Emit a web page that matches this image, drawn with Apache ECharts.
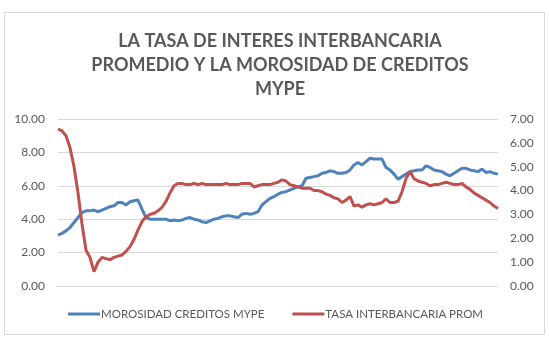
<!DOCTYPE html>
<html>
<head>
<meta charset="utf-8">
<script src="https://cdn.jsdelivr.net/npm/echarts@6/dist/echarts.min.js"></script>
<style>
  html, body { margin: 0; padding: 0; background: #fff; }
  #main { width: 549px; height: 339px; }
</style>
</head>
<body>
<div id="main"></div>
<script>
  // series values (monthly points)
  var morosidad = [
    3.05, 3.15, 3.3, 3.5, 3.8, 4.1, 4.4, 4.5, 4.5, 4.55,
    4.45, 4.55, 4.65, 4.75, 4.8, 5.0, 5.0, 4.85, 5.05, 5.1,
    5.15, 4.6, 4.1, 4.0, 4.0, 4.0, 4.0, 4.0, 3.9, 3.95,
    3.9, 3.95, 4.05, 4.1, 4.0, 3.95, 3.85, 3.8, 3.9, 4.0,
    4.05, 4.15, 4.2, 4.2, 4.15, 4.1, 4.3, 4.35, 4.3, 4.35,
    4.45, 4.85, 5.05, 5.25, 5.35, 5.5, 5.6, 5.65, 5.75, 5.85,
    5.95, 6.0, 6.45, 6.5, 6.55, 6.6, 6.75, 6.8, 6.9, 6.85,
    6.75, 6.75, 6.8, 6.95, 7.25, 7.4, 7.25, 7.45, 7.65, 7.6,
    7.6, 7.6, 7.1, 6.95, 6.7, 6.4, 6.55, 6.7, 6.85, 6.9,
    6.95, 6.95, 7.2, 7.1, 6.95, 6.9, 6.85, 6.7, 6.6, 6.75,
    6.9, 7.05, 7.05, 6.95, 6.9, 6.85, 7.0, 6.8, 6.85, 6.75,
    6.7
  ];
  var tasa = [
    6.58, 6.5, 6.3, 5.8, 5.0, 3.9, 2.6, 1.5, 1.2, 0.6,
    1.0, 1.2, 1.15, 1.1, 1.2, 1.25, 1.3, 1.45, 1.65, 1.95,
    2.35, 2.7, 2.9, 3.0, 3.05, 3.15, 3.3, 3.55, 3.9, 4.2,
    4.3, 4.3, 4.25, 4.25, 4.3, 4.25, 4.3, 4.25, 4.25, 4.25,
    4.25, 4.25, 4.3, 4.25, 4.25, 4.25, 4.3, 4.3, 4.3, 4.15,
    4.2, 4.25, 4.25, 4.25, 4.3, 4.35, 4.45, 4.4, 4.25, 4.2,
    4.15, 4.1, 4.1, 4.1, 4.0, 4.0, 3.95, 3.85, 3.8, 3.7,
    3.65, 3.5, 3.6, 3.75, 3.35, 3.4, 3.3, 3.4, 3.45, 3.4,
    3.45, 3.5, 3.65, 3.5, 3.5, 3.55, 3.95, 4.5, 4.8, 4.5,
    4.4, 4.35, 4.3, 4.2, 4.25, 4.25, 4.3, 4.35, 4.3, 4.25,
    4.25, 4.3, 4.15, 4.05, 3.9, 3.8, 3.7, 3.6, 3.5, 3.35,
    3.25
  ];
  // category labels (axis labels are hidden in the original)
  var periodos = morosidad.map(function (v, i) { return 'P' + (i + 1); });

  var gris = '#595959';
  var myChart = echarts.init(document.getElementById('main'));
  var option = {
    backgroundColor: '#fff',
    textStyle: { fontFamily: 'Lato' },
    animation: false,
    graphic: [{
      type: 'rect',
      shape: { x: 4.5, y: 12.5, width: 540, height: 322 },
      style: { fill: 'none', stroke: '#d9d9d9', lineWidth: 1 },
      silent: true
    }],
    title: {
      text: 'LA TASA DE INTERES INTERBANCARIA\nPROMEDIO Y LA MOROSIDAD DE CREDITOS\nMYPE',
      left: 275,
      textAlign: 'center',
      top: 24,
      textStyle: {
        color: gris,
        fontSize: 18,
        fontWeight: 'bold',
        lineHeight: 24,
        fontFamily: 'Lato'
      }
    },
    legend: {
      bottom: 14,
      left: 63,
      itemGap: 28,
      itemWidth: 32,
      itemHeight: 3,
      icon: 'rect',
      textStyle: { color: gris, fontSize: 11.5, padding: [0, 0, 0, -4] },
      data: ['MOROSIDAD CREDITOS MYPE', 'TASA INTERBANCARIA PROM']
    },
    grid: { left: 58, right: 51, top: 119, bottom: 53 },
    xAxis: {
      type: 'category',
      data: periodos,
      boundaryGap: false,
      axisLine: { lineStyle: { color: '#d9d9d9' } },
      axisTick: { show: false },
      axisLabel: { show: false }
    },
    yAxis: [{
      type: 'value',
      min: 0,
      max: 10,
      interval: 2,
      axisLine: { show: false },
      axisTick: { show: false },
      splitLine: { lineStyle: { color: '#d9d9d9' } },
      axisLabel: {
        color: gris,
        fontSize: 12,
        margin: 13,
        formatter: function (v) { return v.toFixed(2); }
      }
    }, {
      type: 'value',
      min: 0,
      max: 7,
      interval: 1,
      axisLine: { show: false },
      axisTick: { show: false },
      splitLine: { show: false },
      axisLabel: {
        color: gris,
        fontSize: 12,
        margin: 12,
        formatter: function (v) { return v.toFixed(2); }
      }
    }],
    series: [{
      name: 'MOROSIDAD CREDITOS MYPE',
      type: 'line',
      data: morosidad,
      yAxisIndex: 0,
      showSymbol: false,
      color: '#4F81BD',
      lineStyle: { width: 3, color: '#4F81BD' }
    }, {
      name: 'TASA INTERBANCARIA PROM',
      type: 'line',
      data: tasa,
      yAxisIndex: 1,
      showSymbol: false,
      color: '#C0504D',
      lineStyle: { width: 3, color: '#C0504D' }
    }]
  };
  myChart.setOption(option);
</script>
</body>
</html>
